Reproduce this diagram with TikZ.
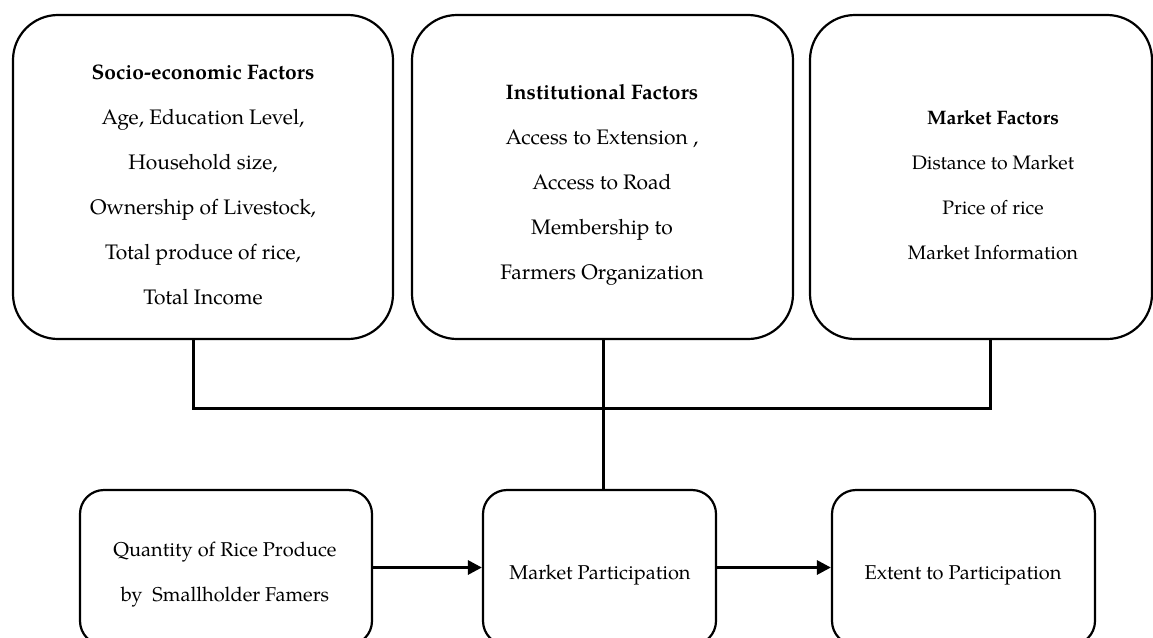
\documentclass[tikz,border=0pt]{standalone}
\usepackage{fontspec}
\setmainfont{TeX Gyre Pagella}
\usetikzlibrary{arrows.meta}
\begin{document}
\begin{tikzpicture}[x=1pt,y=-1pt,
  bigbox/.style={draw, line width=2.2pt, rounded corners=45pt, minimum width=#1, minimum height=324pt, inner sep=0pt},
  smallbox/.style={draw, line width=2.2pt, rounded corners=24pt, minimum width=#1, minimum height=155pt, inner sep=0pt},
  txt/.style={align=center, inner sep=0pt, font=\fontsize{21}{45}\selectfont},
  txtsm/.style={align=center, inner sep=0pt, font=\fontsize{19.5}{45}\selectfont},
  txtbot/.style={align=center, inner sep=0pt, font=\fontsize{20}{45}\selectfont},
  conn/.style={line width=3pt},
  arr/.style={line width=3pt, -{Triangle[length=14pt,width=14pt]}}
]
\useasboundingbox (0,0) rectangle (1153,637);
\clip (0,0) rectangle (1153,637);
% top boxes
\node[bigbox=380pt] (b1) at (203,177) {};
\node[bigbox=381pt] (b2) at (602.5,177) {};
\node[bigbox=342pt] (b3) at (981,177) {};
\node[txt] (t1) at (203,185) {\textbf{Socio-economic Factors}\\Age, Education Level,\\Household size,\\Ownership of Livestock,\\Total produce of rice,\\Total Income};
\node[txt] (t2) at (602,185) {\textbf{Institutional Factors}\\Access to Extension ,\\Access to Road\\Membership to\\Farmers Organization};
\node[txtsm] (t3) at (993,185.5) {\textbf{Market Factors}\\Distance to Market\\Price of rice\\Market Information};
% bottom boxes
\node[smallbox=292pt] (b4) at (226,567.5) {};
\node[smallbox=233pt] (b5) at (599.5,567.5) {};
\node[smallbox=263pt] (b6) at (963.5,567.5) {};
\node[txtbot] (t4) at (225,575) {Quantity of Rice Produce\\by~ Smallholder Famers};
\node[txtbot] (t5) at (600,575) {Market Participation};
\node[txtbot] (t6) at (963,575) {Extent to Participation};
% connectors
\coordinate (j1) at (193,408);
\coordinate (j2) at (603,408);
\coordinate (j3) at (990,408);
\draw[conn] (b1.south -| j1) -- (j1) -- (j3) -- (b3.south -| j3);
\draw[conn] (b2.south -| j2) -- (b5.north -| j2);
\draw[arr] (b4.east) -- (b5.west);
\draw[arr] (b5.east) -- (b6.west);
\end{tikzpicture}
\end{document}
